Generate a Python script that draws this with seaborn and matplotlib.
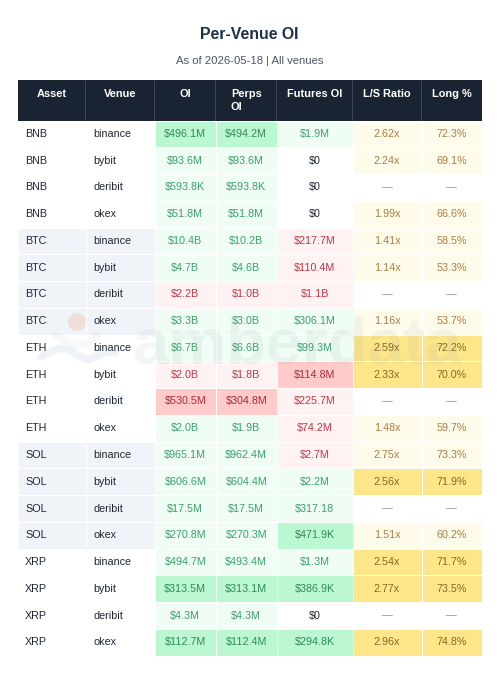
import numpy as np
import matplotlib
matplotlib.use("Agg")
import matplotlib.pyplot as plt
from matplotlib.colors import ListedColormap
from matplotlib.patches import Circle
from matplotlib.lines import Line2D
from matplotlib.transforms import IdentityTransform
import seaborn as sns

# ---- data ----
headers = ["Asset", "Venue", "OI", "Perps\nOI", "Futures OI", "L/S Ratio", "Long %"]
asset = ["BNB"]*4 + ["BTC"]*4 + ["ETH"]*4 + ["SOL"]*4 + ["XRP"]*4
venue = ["binance", "bybit", "deribit", "okex"]*5
oi = ["$496.1M","$93.6M","$593.8K","$51.8M","$10.4B","$4.7B","$2.2B","$3.3B","$6.7B","$2.0B",
      "$530.5M","$2.0B","$965.1M","$606.6M","$17.5M","$270.8M","$494.7M","$313.5M","$4.3M","$112.7M"]
perps = ["$494.2M","$93.6M","$593.8K","$51.8M","$10.2B","$4.6B","$1.0B","$3.0B","$6.6B","$1.8B",
         "$304.8M","$1.9B","$962.4M","$604.4M","$17.5M","$270.3M","$493.4M","$313.1M","$4.3M","$112.4M"]
futures = ["$1.9M","$0","$0","$0","$217.7M","$110.4M","$1.1B","$306.1M","$99.3M","$114.8M",
           "$225.7M","$74.2M","$2.7M","$2.2M","$317.18","$471.9K","$1.3M","$386.9K","$0","$294.8K"]
ls_ratio = ["2.62x","2.24x","—","1.99x","1.41x","1.14x","—","1.16x","2.59x","2.33x",
            "—","1.48x","2.75x","2.56x","—","1.51x","2.54x","2.77x","—","2.96x"]
long_pct = ["72.3%","69.1%","—","66.6%","58.5%","53.3%","—","53.7%","72.2%","70.0%",
            "—","59.7%","73.3%","71.9%","—","60.2%","71.7%","73.5%","—","74.8%"]

# shade classes: 0 none, 1 light green, 2 strong green, 3 light red, 4 strong red,
# 5 light gold, 6 strong gold, 7 asset band
band = [0,0,0,0, 7,7,7,7, 0,0,0,0, 7,7,7,7, 0,0,0,0]
oi_shade = [2,1,1,1, 1,1,3,1, 1,3,4,1, 1,1,1,1, 1,2,1,2]
perps_shade = [2,1,1,1, 1,1,3,1, 1,3,4,1, 1,1,1,1, 1,2,1,2]
futures_shade = [1,0,0,0, 3,3,3,1, 1,4,3,3, 3,1,1,2, 1,2,0,2]
ls_shade = [5,5,0,5, 5,5,0,5, 6,6,0,5, 5,6,0,5, 6,6,0,6]
long_shade = [5,5,0,5, 5,5,0,5, 6,6,0,5, 5,6,0,5, 6,6,0,6]

columns = [asset, venue, oi, perps, futures, ls_ratio, long_pct]
shades = [band, band, oi_shade, perps_shade, futures_shade, ls_shade, long_shade]

# ---- style ----
W, H = 500, 678
col_edges = [18, 86, 155, 215.5, 277, 352.5, 421.5, 481.7]
head_top, head_bot, table_bot = 80.3, 120.5, 655.7
palette = ["#ffffff", "#effdf4", "#bbf7d0", "#fef2f2", "#fecaca", "#fffbeb", "#fde68a", "#f0f4f8"]
text_cols = {0: "#1f2733", 1: "#3c9f6c", 2: "#2f8a5a", 3: "#b83a48", 4: "#a82c3a",
             5: "#a87f45", 6: "#8a6720", 7: "#1f2733"}
cmap = ListedColormap(palette)
font = ["Liberation Sans", "DejaVu Sans"]

sns.set_theme(style="white")
plt.rcParams["font.family"] = font

fig = plt.figure(figsize=(W/100, H/100), dpi=100, facecolor="white")


def place(x0, x1, y0, y1):
    return fig.add_axes([x0/W, 1 - y1/H, (x1 - x0)/W, (y1 - y0)/H])


for i, (hdr, vals, shade) in enumerate(zip(headers, columns, shades)):
    x0, x1 = col_edges[i], col_edges[i + 1]
    # header cell
    hax = place(x0, x1, head_top, head_bot)
    sns.heatmap(np.zeros((1, 1)), ax=hax, cmap=ListedColormap(["#1a2332"]), cbar=False,
                annot=np.array([[hdr]]), fmt="", linewidths=0,
                xticklabels=False, yticklabels=False,
                annot_kws={"fontsize": 7.9, "fontweight": "bold", "color": "white"})
    for t in hax.texts:
        t.set_va("top")
        t.set_y(0.205)
        t.set_multialignment("left")
        t.set_linespacing(1.45)
    if i < len(headers) - 1:
        hax.axvline(1, color="#cfd5db", linewidth=1.0, clip_on=False, zorder=4)
    # body column
    ax = place(x0, x1, head_bot, table_bot)
    arr = np.array(shade, dtype=float).reshape(-1, 1)
    labels = np.array(vals, dtype=object).reshape(-1, 1)
    sns.heatmap(arr, ax=ax, cmap=cmap, vmin=-0.5, vmax=7.5, cbar=False, annot=labels, fmt="",
                linewidths=0.72, linecolor="white", xticklabels=False, yticklabels=False,
                annot_kws={"fontsize": 7.75})
    for t, s in zip(ax.texts, shade):
        t.set_color("#8a9099" if t.get_text() == "—" else text_cols[s])
        if i < 2:
            t.set_ha("left")
            t.set_x(7.2/(x1 - x0))

fig.text(249.5/W, 1 - 34.5/H, "Per-Venue OI", ha="center", va="center", fontsize=11.4,
         fontweight="bold", color="#1f2f46")
fig.text(249.8/W, 1 - 60.5/H, "As of 2026-05-18 | All venues", ha="center", va="center",
         fontsize=8.1, color="#4a5568")

# ---- watermark (pixel-placed logo) ----
fig.text(132/W, 1 - 363/H, "amberdata", ha="left", va="baseline", fontsize=47,
         fontweight="bold", color="#8fa3ad", alpha=0.10, zorder=5)
logo = Circle((77, H - 322), 9, transform=IdentityTransform(),
              facecolor="#f2a27a", edgecolor="none", alpha=0.25, zorder=5)
fig.add_artist(logo)
lower_x = [41, 50, 60, 70, 78, 88, 98, 108, 115]
lower_y = [357, 352, 348, 350, 356, 360, 356, 352, 353]
upper_x = [55, 65, 77, 88, 97]
upper_y = [336, 341, 346, 342, 336]
for xs, ys, a in [(lower_x, lower_y, 0.15), (upper_x, upper_y, 0.08)]:
    fig.add_artist(Line2D(xs, [H - v for v in ys], transform=IdentityTransform(), color="#9fb2c4",
                          alpha=a, linewidth=5.5, solid_capstyle="round",
                          solid_joinstyle="round", zorder=5))

fig.savefig("out.png", dpi=100, facecolor="white")
